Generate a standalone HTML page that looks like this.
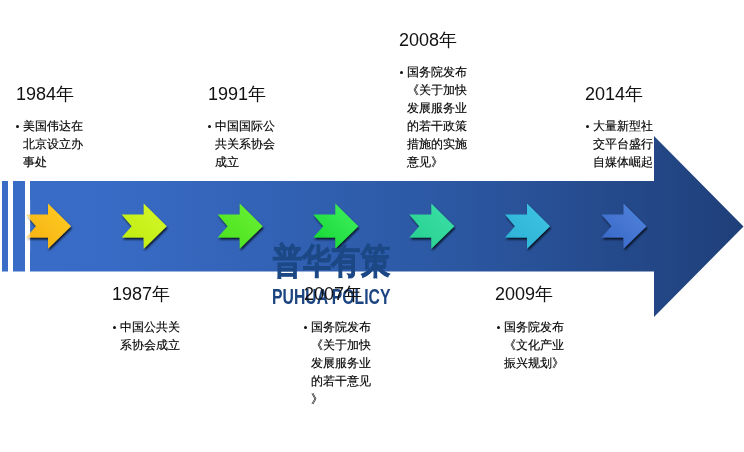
<!DOCTYPE html>
<html><head><meta charset="utf-8">
<style>
html,body{margin:0;padding:0;background:#fff;}
body{width:744px;height:452px;position:relative;overflow:hidden;font-family:"Liberation Sans",sans-serif;color:#1a1a1a;}
svg{position:absolute;left:0;top:0;}
.h{position:absolute;font-size:18px;line-height:20px;white-space:nowrap;color:#111;will-change:transform;}
.b{position:absolute;font-size:12px;line-height:18px;white-space:nowrap;color:#000;-webkit-text-stroke:0.15px #000;will-change:transform;}
.b .d{position:absolute;left:-7px;top:7.8px;width:3px;height:3px;border-radius:50%;background:#111;}
</style></head><body>

<div class="h" style="left:585px;top:84px">2014年</div>
<div class="b" style="left:593px;top:117px"><span class="d"></span>大量新型社<br>交平台盛行，<br>自媒体崛起</div>

<svg width="744" height="452" viewBox="0 0 744 452">
  <defs>
    <linearGradient id="band" x1="0" y1="0" x2="744" y2="0" gradientUnits="userSpaceOnUse">
      <stop offset="0" stop-color="#396cc6"/>
      <stop offset="0.15" stop-color="#386bc5"/>
      <stop offset="0.6" stop-color="#2c58a3"/>
      <stop offset="1" stop-color="#1f3f79"/>
    </linearGradient>
    <filter id="sh" x="-30%" y="-30%" width="160%" height="160%">
      <feGaussianBlur in="SourceAlpha" stdDeviation="1.3"/>
      <feOffset dx="0.6" dy="1.8" result="o"/>
      <feComponentTransfer><feFuncA type="linear" slope="0.8"/></feComponentTransfer>
      <feMerge><feMergeNode/><feMergeNode in="SourceGraphic"/></feMerge>
    </filter>
    <linearGradient id="g1" x1="1" y1="0" x2="0" y2="1"><stop offset="0" stop-color="#ffce26"/><stop offset="1" stop-color="#f4ae10"/></linearGradient>
    <linearGradient id="g2" x1="1" y1="0" x2="0" y2="1"><stop offset="0" stop-color="#d6f72c"/><stop offset="1" stop-color="#bcec0e"/></linearGradient>
    <linearGradient id="g3" x1="1" y1="0" x2="0" y2="1"><stop offset="0" stop-color="#6af236"/><stop offset="1" stop-color="#48e01e"/></linearGradient>
    <linearGradient id="g4" x1="1" y1="0" x2="0" y2="1"><stop offset="0" stop-color="#42f062"/><stop offset="1" stop-color="#12d630"/></linearGradient>
    <linearGradient id="g5" x1="1" y1="0" x2="0" y2="1"><stop offset="0" stop-color="#3ce0a8"/><stop offset="1" stop-color="#26cf8e"/></linearGradient>
    <linearGradient id="g6" x1="1" y1="0" x2="0" y2="1"><stop offset="0" stop-color="#40c6e4"/><stop offset="1" stop-color="#2aafd4"/></linearGradient>
    <linearGradient id="g7" x1="1" y1="0" x2="0" y2="1"><stop offset="0" stop-color="#5084dc"/><stop offset="1" stop-color="#3866c6"/></linearGradient>
    <path id="arr" d="M0,11 L22,11 L22,0 L45,22.6 L22,45.2 L22,34 L0,34 L10,22.6 Z"/>
  </defs>
  <rect x="2" y="181" width="6" height="90.5" fill="#396cc6"/>
  <rect x="13" y="181" width="12" height="90.5" fill="#396cc6"/>
  <path d="M30,181 L654,181 L654,136 L743.5,226.5 L654,317 L654,271.5 L30,271.5 Z" fill="url(#band)"/>
  <g filter="url(#sh)">
    <use href="#arr" x="26" y="203.6" fill="url(#g1)"/>
    <use href="#arr" x="121.7" y="203.6" fill="url(#g2)"/>
    <use href="#arr" x="217.7" y="203.6" fill="url(#g3)"/>
    <use href="#arr" x="313.3" y="203.6" fill="url(#g4)"/>
    <use href="#arr" x="409.3" y="203.6" fill="url(#g5)"/>
    <use href="#arr" x="505" y="203.6" fill="url(#g6)"/>
    <use href="#arr" x="601.5" y="203.6" fill="url(#g7)"/>
  </g>
  <rect x="25" y="200" width="5.2" height="52" fill="#fff" fill-opacity="0.5"/>
</svg>

<div style="position:absolute;left:273px;top:238px;font-weight:900;color:#1c4886;-webkit-text-stroke:0.9px #1c4886;font-size:35px;line-height:46px;white-space:nowrap;transform-origin:0 0;transform:scaleX(0.835)">普华有策</div>
<div style="position:absolute;left:272.4px;top:284px;font-weight:bold;color:#1b4481;font-size:22.5px;line-height:26px;white-space:nowrap;transform-origin:0 0;transform:scaleX(0.7)">PUHUA POLICY</div>

<div class="h" style="left:16px;top:84px">1984年</div>
<div class="b" style="left:23px;top:117px"><span class="d"></span>美国伟达在<br>北京设立办<br>事处</div>

<div class="h" style="left:208px;top:84px">1991年</div>
<div class="b" style="left:215px;top:117px"><span class="d"></span>中国国际公<br>共关系协会<br>成立</div>

<div class="h" style="left:399px;top:30px">2008年</div>
<div class="b" style="left:407px;top:63px"><span class="d"></span>国务院发布<br>《关于加快<br>发展服务业<br>的若干政策<br>措施的实施<br>意见》</div>

<div class="h" style="left:112px;top:284px">1987年</div>
<div class="b" style="left:120px;top:318px"><span class="d"></span>中国公共关<br>系协会成立</div>

<div class="h" style="left:304px;top:284px">2007年</div>
<div class="b" style="left:311px;top:318px"><span class="d"></span>国务院发布<br>《关于加快<br>发展服务业<br>的若干意见<br>》</div>

<div class="h" style="left:495px;top:284px">2009年</div>
<div class="b" style="left:504px;top:318px"><span class="d"></span>国务院发布<br>《文化产业<br>振兴规划》</div>

</body></html>
